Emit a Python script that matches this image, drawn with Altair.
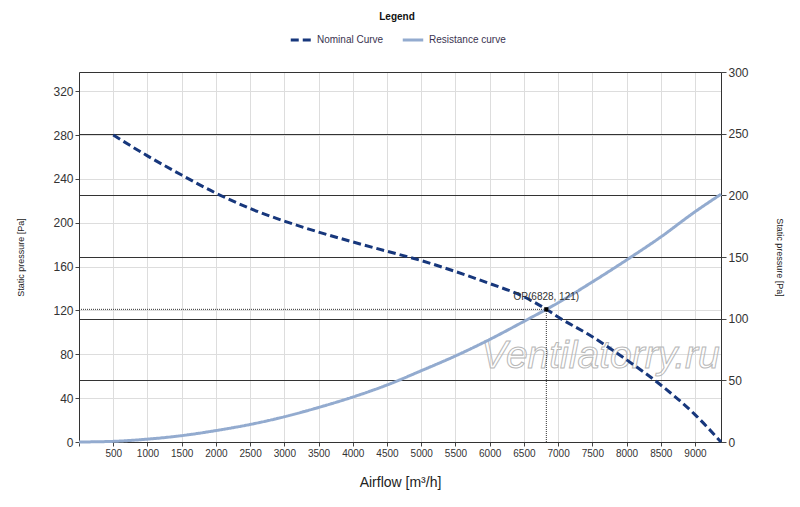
import altair as alt
import pandas as pd

# ---- data ----
nominal_q = [500, 1000, 1500, 2000, 2500, 3000, 3500, 4000, 4500, 5000, 5500,
             6000, 6500, 6828, 7000, 7500, 8000, 8500, 9000, 9380]
nominal_p = [280, 261, 243.5, 227, 213, 201.5, 191.5, 182.5, 174, 165.5, 155.5,
             144.5, 132.5, 121, 114, 96, 75, 52, 25, 0]

resist_q = [0, 500, 1000, 1500, 2000, 2500, 3000, 3500, 4000, 4500, 5000, 5500,
            6000, 6500, 6828, 7000, 7500, 8000, 8500, 9000, 9380]
resist_p = [0, 0.6, 2.6, 5.8, 10.4, 16, 23, 31.5, 41, 52, 65, 78.5,
            93.5, 110, 121, 127, 146, 166, 187, 210, 226]

series_names = ["Nominal Curve", "Resistance curve"]
series_colors = ["#17377c", "#93abcf"]

op_q = [6828]
op_p = [121]
op_label = ["OP(6828, 121)"]

x_ticks = [0, 500, 1000, 1500, 2000, 2500, 3000, 3500, 4000, 4500, 5000,
           5500, 6000, 6500, 7000, 7500, 8000, 8500, 9000]
left_ticks = [0, 40, 80, 120, 160, 200, 240, 280, 320]
right_ticks = [0, 50, 100, 150, 200, 250, 300]

watermark = ["Ventilatorry.ru"]
watermark_q = [7620]
watermark_p = [78]

W, H = 642, 370
FONT = "Liberation Sans"

curves = pd.DataFrame(
    {"q": nominal_q + resist_q,
     "p": nominal_p + resist_p,
     "series": [series_names[0]] * len(nominal_q) + [series_names[1]] * len(resist_q)}
)

xscale = alt.Scale(domain=[0, 9380], nice=False, zero=False)
yleft = alt.Scale(domain=[0, 337.5], nice=False, zero=False)
yright = alt.Scale(domain=[0, 300], nice=False, zero=False)

x_axis = alt.Axis(values=x_ticks, format="d", tickCount=len(x_ticks),
                  labelExpr="datum.value == 0 ? '' : datum.label",
                  labelOverlap=False, labelFlush=False,
                  grid=True, gridColor="#dddddd", gridWidth=1,
                  tickColor="#444", tickSize=4, domainColor="#333",
                  labelFontSize=10, labelColor="#333", labelFont=FONT,
                  title="Airflow [m³/h]", titleFontSize=14, titleFontWeight="normal",
                  titleColor="#222", titleFont=FONT, titleX=W / 2, titleY=40,
                  titleBaseline="middle")

left_axis = alt.Axis(values=left_ticks, grid=True, gridColor="#dddddd", gridWidth=1,
                     labelOverlap=False,
                     tickColor="#444", tickSize=4, domainColor="#333",
                     labelFontSize=12, labelColor="#333", labelFont=FONT,
                     title="Static pressure [Pa]", titleFontSize=9,
                     titleFontWeight="normal", titleColor="#222", titleFont=FONT,
                     titleX=-59, titleY=H / 2, titleAngle=270,
                     titleAlign="center", titleBaseline="middle")

right_axis = alt.Axis(values=right_ticks, orient="right", grid=True,
                      gridColor="#333333", gridWidth=1, labelOverlap=False,
                      tickColor="#444", tickSize=5, domainColor="#333",
                      labelFontSize=12, labelColor="#333", labelFont=FONT,
                      title="Static pressure [Pa]", titleFontSize=9,
                      titleFontWeight="normal", titleColor="#222", titleFont=FONT,
                      titleX=58, titleY=H / 2, titleAngle=90,
                      titleAlign="center", titleBaseline="middle")

legend = alt.Legend(orient="none", legendX=210, legendY=-60, direction="horizontal",
                    title="Legend", titleOrient="top", titleAnchor="middle",
                    titleFontSize=10, titleFontWeight="bold", titleColor="#111",
                    titleFont=FONT, labelFontSize=10, labelColor="#3a3350",
                    labelFont=FONT, symbolType="stroke", symbolStrokeWidth=3,
                    symbolSize=420, columnPadding=12, titlePadding=6)


def X(field):
    return alt.X(field, scale=xscale, axis=x_axis)


def Y(field):
    return alt.Y(field, scale=yleft, axis=left_axis)


color_enc = alt.Color("series:N", scale=alt.Scale(domain=series_names, range=series_colors),
                      legend=legend)
dash_enc = alt.StrokeDash("series:N",
                          scale=alt.Scale(domain=series_names, range=[[8, 4], [1, 0]]),
                          legend=legend)

# right-axis layer (provides the dark horizontal lines)
right_df = pd.DataFrame({"r": right_ticks})
right_layer = alt.Chart(right_df).mark_point(opacity=0).encode(
    y=alt.Y("r:Q", scale=yright, axis=right_axis)
)

wm_df = pd.DataFrame({"q": watermark_q, "p": watermark_p, "t": watermark})
wm_layer = alt.Chart(wm_df).mark_text(
    font=FONT, fontSize=39, fontStyle="italic", fill="#ffffff", fillOpacity=0.0,
    stroke="#b8b8b8", strokeWidth=1, align="center", baseline="middle"
).encode(x=X("q:Q"), y=Y("p:Q"), text="t:N")

line_layer = alt.Chart(curves).mark_line(strokeWidth=3, interpolate="monotone").encode(
    x=X("q:Q"), y=Y("p:Q"),
    color=color_enc,
    strokeDash=dash_enc,
    detail="series:N",
)

op_df = pd.DataFrame({"q": op_q, "p": op_p, "t": op_label, "z": [0]})
hline = alt.Chart(op_df).mark_rule(color="#333", strokeWidth=1, strokeDash=[1, 1]).encode(
    x=X("z:Q"), x2="q:Q", y=Y("p:Q")
)
vline = alt.Chart(op_df).mark_rule(color="#333", strokeWidth=1, strokeDash=[1, 1]).encode(
    x=X("q:Q"), y=Y("z:Q"), y2="p:Q"
)
op_pt = alt.Chart(op_df).mark_square(size=18, color="#000", opacity=1).encode(
    x=X("q:Q"), y=Y("p:Q")
)
op_txt = alt.Chart(op_df).mark_text(font=FONT, fontSize=10, color="#333", dy=-12).encode(
    x=X("q:Q"), y=Y("p:Q"), text="t:N"
)

left_group = alt.layer(wm_layer, hline, vline, line_layer, op_pt, op_txt)

chart = alt.layer(left_group, right_layer).resolve_scale(y="independent").properties(
    width=W, height=H,
    autosize=alt.AutoSizeParams(type="none"),
    padding={"left": 71, "top": 64, "right": 71, "bottom": 57},
).configure_view(stroke="#333", strokeWidth=1).configure(background="white")

chart.save("out.html", embed_options={"renderer": "svg", "actions": False})
